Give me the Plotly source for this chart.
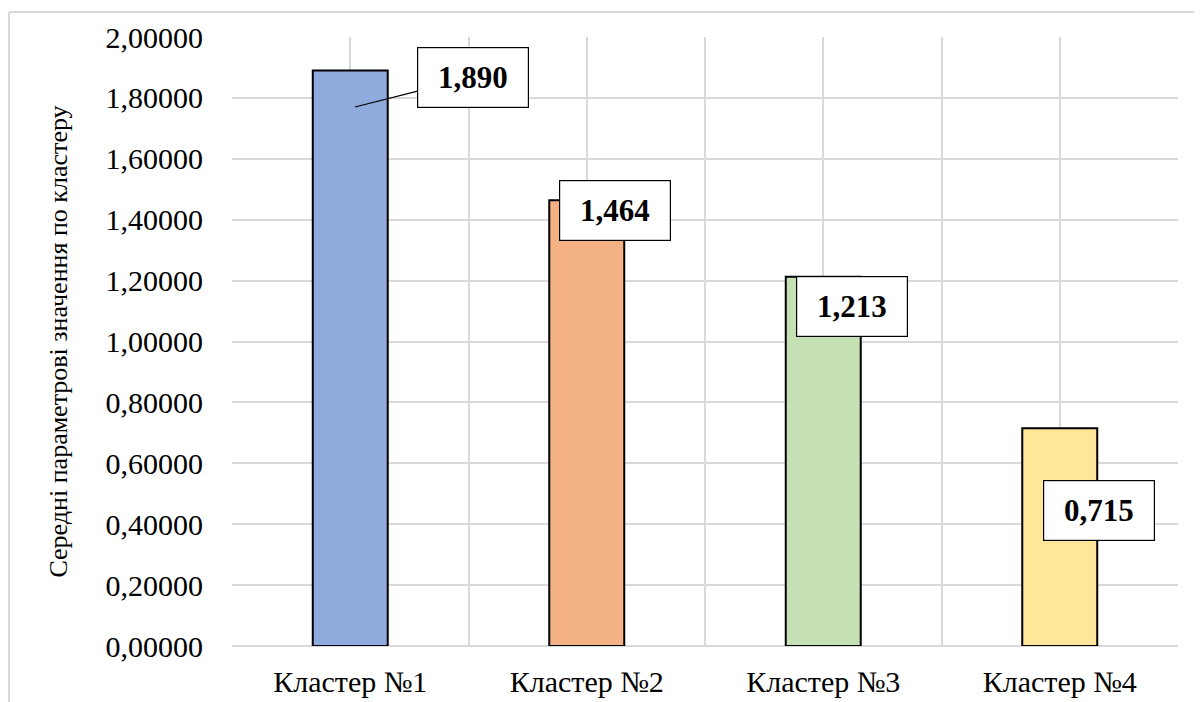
import plotly.graph_objects as go

# Дані кластерів
clusters = ["Кластер №1", "Кластер №2", "Кластер №3", "Кластер №4"]
values = [1.890, 1.464, 1.213, 0.715]
labels = ["1,890", "1,464", "1,213", "0,715"]
colors = ["#8FAADC", "#F4B183", "#C5E0B4", "#FFE699"]
y_ticks = [0.0, 0.2, 0.4, 0.6, 0.8, 1.0, 1.2, 1.4, 1.6, 1.8, 2.0]
y_tick_text = ["0,00000", "0,20000", "0,40000", "0,60000", "0,80000", "1,00000",
               "1,20000", "1,40000", "1,60000", "1,80000", "2,00000"]

font = "Liberation Serif, Times New Roman, serif"
pos = list(range(len(clusters)))

fig = go.Figure()
fig.add_trace(go.Bar(
    x=pos, y=values, width=0.317,
    marker=dict(color=colors, line=dict(color="black", width=2)),
    hoverinfo="skip",
))

# зсуви підписів відносно вершин стовпців (пікселі)
shifts = [(0, 0), (28, -10), (29, -30), (39, -82)]
for i, (v, t) in enumerate(zip(values, labels)):
    common = dict(text="&nbsp;<b>" + t + "</b>&nbsp;", font=dict(family=font, size=31, color="black"),
                  bgcolor="white", bordercolor="black", borderwidth=1.2, borderpad=12,
                  xref="x", yref="y")
    if i == 0:
        fig.add_annotation(x=i + 0.02, y=v - 0.12, showarrow=True, arrowhead=0,
                           arrowwidth=1.2, arrowcolor="black", ax=118, ay=-30, **common)
    else:
        dx, dy = shifts[i]
        fig.add_annotation(x=i, y=v, showarrow=False, xshift=dx, yshift=dy, **common)

# рамка області діаграми
fig.add_shape(type="line", xref="paper", yref="paper", x0=-0.2357, x1=1.03, y0=1.041, y1=1.041,
              line=dict(color="#D9D9D9", width=2), layer="below")
fig.add_shape(type="line", xref="paper", yref="paper", x0=-0.2357, x1=-0.2357, y0=-0.1, y1=1.041,
              line=dict(color="#D9D9D9", width=2), layer="below")

fig.update_layout(
    width=1194, height=694,
    margin=dict(l=224, r=24, t=29, b=56),
    plot_bgcolor="white", paper_bgcolor="white",
    showlegend=False, bargap=0.68,
    font=dict(family=font, color="black"),
)
fig.update_xaxes(
    range=[-0.5, 3.5], tickvals=pos, ticktext=clusters, automargin=False,
    tickfont=dict(family=font, size=30, color="black"),
    showgrid=True, gridcolor="#D9D9D9", gridwidth=1.5,
    minor=dict(tickvals=[-0.5, 0.5, 1.5, 2.5, 3.5], showgrid=True, gridcolor="#D9D9D9", gridwidth=1.5),
    ticks="outside", ticklen=9, tickcolor="rgba(0,0,0,0)",
    showline=False, zeroline=False,
)
fig.update_yaxes(
    range=[0, 2.0], tickvals=y_ticks, ticktext=y_tick_text, automargin=False,
    tickfont=dict(family=font, size=30, color="black"),
    showgrid=True, gridcolor="#D9D9D9", gridwidth=1.5,
    ticks="outside", ticklen=22, tickcolor="rgba(0,0,0,0)",
    zeroline=True, zerolinecolor="#D9D9D9", zerolinewidth=1.5,
    title=dict(text="Середні параметрові значення по кластеру",
               font=dict(family=font, size=26, color="black"), standoff=30),
)

fig.write_html("out.html")
